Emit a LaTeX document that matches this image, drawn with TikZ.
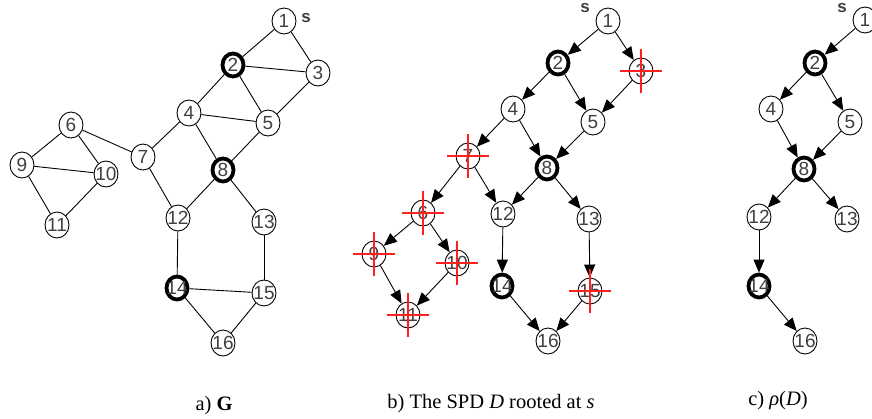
\documentclass[tikz,border=0pt]{standalone}
\usepackage{fontspec}
\setmainfont{Liberation Serif}
\newfontfamily\vfont{Liberation Sans}
\usetikzlibrary{arrows.meta,shapes.geometric}
\definecolor{lbl}{HTML}{404040}
\definecolor{xred}{HTML}{FF2020}
% vertex number, centred and taking no room so every ellipse keeps its size
\newcommand{\vt}[1]{\makebox[0pt]{\raisebox{-0.358em}[0pt][0pt]{#1}}}
\tikzset{
  v/.style={ellipse,draw,line width=0.9pt,minimum width=24pt,minimum height=26pt,
    inner sep=0pt,fill=white,text=lbl,font=\vfont\fontsize{19}{19}\selectfont},
  vk/.style={v,line width=3.8pt,minimum width=21pt,minimum height=23pt},
  e/.style={line width=0.9pt},
  arc/.style={line width=0.9pt,-{Triangle[length=13pt,width=11pt]}},
  srclbl/.style={anchor=base,inner sep=0pt,text height=0.52em,text depth=0pt,
    text=lbl,font=\vfont\bfseries\fontsize{17}{17}\selectfont},
  xmark/.style={draw=xred,line width=1.3pt},
  captext/.style={anchor=base,inner sep=0pt,font=\fontsize{20.5}{20.5}\selectfont}
}
\begin{document}
\begin{tikzpicture}[x=1pt,y=-1pt]
\useasboundingbox (0,0) rectangle (872,418);

% ---------------- a) the graph G
\node[v]  (a1)  at (284,21)  {\vt{1}};
\node[vk] (a2)  at (233,65)  {\vt{2}};
\node[v]  (a3)  at (318,73)  {\vt{3}};
\node[v]  (a4)  at (189,113) {\vt{4}};
\node[v]  (a5)  at (268,123) {\vt{5}};
\node[v]  (a6)  at (71,125)  {\vt{6}};
\node[v]  (a7)  at (143,157) {\vt{7}};
\node[vk] (a8)  at (223,170) {\vt{8}};
\node[v]  (a9)  at (22,165)  {\vt{9}};
\node[v]  (a10) at (106,174) {\vt{10}};
\node[v]  (a11) at (57,225)  {\vt{11}};
\node[v]  (a12) at (178,218) {\vt{12}};
\node[v]  (a13) at (264,222) {\vt{13}};
\node[vk] (a14) at (177,288) {\vt{14}};
\node[v]  (a15) at (264,293) {\vt{15}};
\node[v]  (a16) at (223,343) {\vt{16}};
\node[srclbl] (as) at (306,22) {s};
\foreach \p/\q in {1/2,1/3,2/3,2/4,2/5,3/5,4/5,4/7,4/8,5/8,6/7,6/9,6/10,9/10,9/11,
                   10/11,7/12,8/12,8/13,12/14,13/15,14/15,14/16,15/16}
  {\draw[e] (a\p) -- (a\q);}

% ---------------- b) the SPD D rooted at s
\node[v]  (b1)  at (608,21)  {\vt{1}};
\node[vk] (b2)  at (558,63)  {\vt{2}};
\node[v]  (b3)  at (641,71)  {\vt{3}};
\node[v]  (b4)  at (513,109) {\vt{4}};
\node[v]  (b5)  at (593,122) {\vt{5}};
\node[v]  (b7)  at (468,156) {\vt{7}};
\node[vk] (b8)  at (547,168) {\vt{8}};
\node[v]  (b6)  at (423,213) {\vt{6}};
\node[v]  (b9)  at (374,254) {\vt{9}};
\node[v]  (b10) at (457,263) {\vt{10}};
\node[v]  (b11) at (408,315) {\vt{11}};
\node[v]  (b12) at (503,214) {\vt{12}};
\node[v]  (b13) at (589,219) {\vt{13}};
\node[vk] (b14) at (502,286) {\vt{14}};
\node[v]  (b15) at (590,291) {\vt{15}};
\node[v]  (b16) at (548,341) {\vt{16}};
\node[srclbl] (bs) at (585,12) {s};
\foreach \p/\q in {1/2,1/3,2/4,2/5,3/5,4/7,4/8,5/8,7/6,7/12,8/12,8/13,6/9,6/10,
                   9/11,10/11,12/14,13/15,14/16,15/16}
  {\draw[arc] (b\p) -- (b\q);}
% removed vertices are crossed out
\foreach \n in {b3,b7,b6,b9,b10,b11,b15}
  {\path[xmark] ([xshift=-21pt]\n.center) -- ([xshift=21pt]\n.center)
                ([yshift=-22pt]\n.center) -- ([yshift=22pt]\n.center);}

% ---------------- c) rho(D)
\node[v]  (c1)  at (865,20)  {\vt{1}};
\node[vk] (c2)  at (815,63)  {\vt{2}};
\node[v]  (c4)  at (771,109) {\vt{4}};
\node[v]  (c5)  at (850,122) {\vt{5}};
\node[vk] (c8)  at (804,169) {\vt{8}};
\node[v]  (c12) at (759,217) {\vt{12}};
\node[v]  (c13) at (847,219) {\vt{13}};
\node[vk] (c14) at (759,286) {\vt{14}};
\node[v]  (c16) at (805,341) {\vt{16}};
\node[srclbl] (cs) at (842,12) {s};
\foreach \p/\q in {1/2,2/4,2/5,4/8,5/8,8/12,8/13,12/14,14/16}
  {\draw[arc] (c\p) -- (c\q);}

% ---------------- captions
\node[captext] (capa) at (214,410) {a) \textbf{G}};
\node[captext] (capb) at (491,408) {b) The SPD \textit{D} rooted at \textit{s}};
\node[captext] (capc) at (778,405) {c) \textit{ρ}(\textit{D})};
\end{tikzpicture}
\end{document}
